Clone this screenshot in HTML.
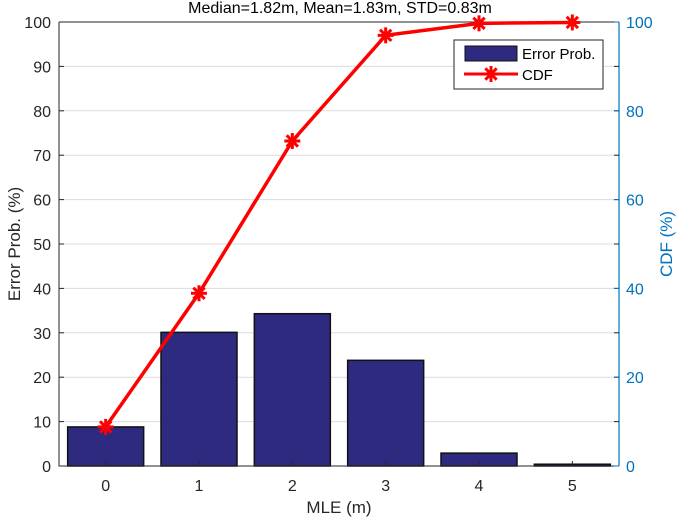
<!DOCTYPE html>
<html><head><meta charset="utf-8"><style>
body{margin:0;background:#fff;}
svg{display:block;font-family:"Liberation Sans",Arial,sans-serif;}
</style></head><body>
<svg id="chart" width="685" height="521" viewBox="0 0 685 521"></svg>
<script>
const categories=[0,1,2,3,4,5];
const errorProb=[8.8,30.1,34.3,23.8,2.9,0.4];
const cdf=[8.8,38.9,73.2,97.0,99.7,99.9];
const leftTicks=[0,10,20,30,40,50,60,70,80,90,100];
const rightTicks=[0,20,40,60,80,100];
const L=59,R=619,T=22,B=466;
const NS="http://www.w3.org/2000/svg";
const svg=document.getElementById('chart');
function xs(i){return L+(i+0.5)*(R-L)/6;}
function ys(v){return B-v*(B-T)/100;}
function mk(tag,attrs,parent){const e=document.createElementNS(NS,tag);for(const k in attrs)e.setAttribute(k,attrs[k]);(parent||svg).appendChild(e);return e;}
// grid
leftTicks.forEach(v=>{if(v>0&&v<100){const g=mk('line',{x1:L,x2:R,y1:ys(v),y2:ys(v),stroke:'#dcdcdc','stroke-width':1});

}});
// bars
errorProb.forEach((v,i)=>{const bw=76;const r=mk('rect',{x:xs(i)-bw/2,y:ys(v),width:bw,height:B-ys(v),fill:'#2e2a80',stroke:'#111','stroke-width':1.5});

});
// axes
const ax=mk('path',{d:`M${L},${T}V${B}H${R}M${L},${T}H${R}`,stroke:'#262626','stroke-width':1,fill:'none'});


const ra=mk('line',{x1:R,x2:R,y1:T,y2:B,stroke:'#0072bd','stroke-width':1.2});


leftTicks.forEach(v=>{mk('line',{x1:L,x2:L+5,y1:ys(v),y2:ys(v),stroke:'#262626'});mk('line',{x1:R,x2:R-5,y1:ys(v),y2:ys(v),stroke:'#262626'});
const t=mk('text',{x:L-8,y:ys(v)+6,'text-anchor':'end','font-size':16,fill:'#262626'});t.textContent=v;

});
rightTicks.forEach(v=>{mk('line',{x1:R,x2:R-5,y1:ys(v),y2:ys(v),stroke:'#0072bd'});
const t=mk('text',{x:R+7,y:ys(v)+6,'font-size':16,fill:'#0072bd'});t.textContent=v;

});
categories.forEach((c,i)=>{mk('line',{x1:xs(i),x2:xs(i),y1:B,y2:B-5,stroke:'#262626'});
const t=mk('text',{x:xs(i),y:B+25,'text-anchor':'middle','font-size':16,fill:'#262626'});t.textContent=c;

});
// CDF line
const pts=cdf.map((v,i)=>xs(i)+','+ys(v)).join(' ');
const pl=mk('polyline',{points:pts,fill:'none',stroke:'#ff0000','stroke-width':3.5});


function star(x,y,p){const g=mk('g',{stroke:'#ff0000','stroke-width':3},p);for(let a=0;a<4;a++){const an=a*Math.PI/4;mk('line',{x1:x-8*Math.cos(an),y1:y-8*Math.sin(an),x2:x+8*Math.cos(an),y2:y+8*Math.sin(an)},g);}return g;}
cdf.forEach((v,i)=>{const s=star(xs(i),ys(v));

});
// legend
const lg=mk('g',{});


mk('rect',{x:454,y:40,width:149,height:49,fill:'#fff',stroke:'#262626','stroke-width':1},lg);
mk('rect',{x:465,y:46,width:52,height:15,fill:'#2e2a80',stroke:'#111'},lg);
const l1=mk('text',{x:522,y:59,'font-size':15,fill:'#000'},lg);l1.textContent='Error Prob.';
mk('line',{x1:464,x2:518,y1:74,y2:74,stroke:'#ff0000','stroke-width':3},lg);
star(491,74,lg);
const l2=mk('text',{x:522,y:80,'font-size':15,fill:'#000'},lg);l2.textContent='CDF';
// titles
const ti=mk('text',{x:340,y:13,'text-anchor':'middle','font-size':16,fill:'#000'});ti.textContent='Median=1.82m, Mean=1.83m, STD=0.83m';


const xl=mk('text',{x:339,y:513,'text-anchor':'middle','font-size':17,fill:'#262626'});xl.textContent='MLE (m)';


const yl=mk('text',{x:0,y:0,'text-anchor':'middle','font-size':17,fill:'#262626',transform:`translate(20,${(T+B)/2}) rotate(-90)`});yl.textContent='Error Prob. (%)';


const yr=mk('text',{x:0,y:0,'text-anchor':'middle','font-size':17,fill:'#0072bd',transform:`translate(672,${(T+B)/2}) rotate(-90)`});yr.textContent='CDF (%)';


</script>
</body></html>
